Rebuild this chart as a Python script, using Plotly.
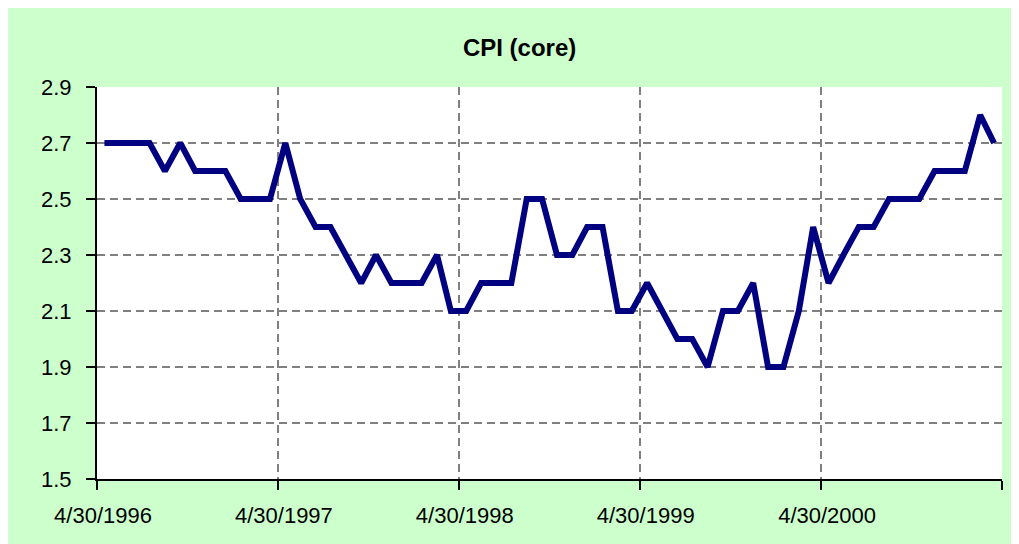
import pandas as pd
import plotly.graph_objects as go

# Monthly core CPI, April 1996 .. March 2001
start_month = "1996-04-01"
cpi_core = [
    2.7, 2.7, 2.7, 2.7, 2.6, 2.7, 2.6, 2.6, 2.6, 2.5, 2.5, 2.5,
    2.7, 2.5, 2.4, 2.4, 2.3, 2.2, 2.3, 2.2, 2.2, 2.2, 2.3, 2.1,
    2.1, 2.2, 2.2, 2.2, 2.5, 2.5, 2.3, 2.3, 2.4, 2.4, 2.1, 2.1,
    2.2, 2.1, 2.0, 2.0, 1.9, 2.1, 2.1, 2.2, 1.9, 1.9, 2.1, 2.4,
    2.2, 2.3, 2.4, 2.4, 2.5, 2.5, 2.5, 2.6, 2.6, 2.6, 2.8, 2.7,
]
tick_dates = ["1996-04-01", "1997-04-01", "1998-04-01", "1999-04-01", "2000-04-01", "2001-04-01"]
tick_labels = ["4/30/1996", "4/30/1997", "4/30/1998", "4/30/1999", "4/30/2000", ""]
y_ticks = [1.5, 1.7, 1.9, 2.1, 2.3, 2.5, 2.7, 2.9]

# points sit in the middle of their month slot (Excel date axis style)
months = pd.date_range(start_month, periods=len(cpi_core), freq="MS") + pd.Timedelta(days=15)

# page has an 8px body margin, figure fills the rest of the 1019x544 window
W, H = 1011, 536
L, R, T, B = 89, 17, 79, 65

fig = go.Figure()
fig.add_trace(go.Scatter(
    x=months, y=cpi_core, mode="lines",
    line=dict(color="#000080", width=6),
    showlegend=False, hoverinfo="x+y",
))

font = "Liberation Sans, Arial, sans-serif"
fig.update_layout(
    width=W, height=H,
    margin=dict(l=L, r=R, t=T, b=B),
    paper_bgcolor="#CCFFCC",
    plot_bgcolor="white",
    title=dict(text="<b>CPI (core)</b>", x=0.506, xref="container", xanchor="center",
               y=1 - 40 / H, yref="container", yanchor="middle",
               font=dict(family=font, size=24, color="black")),
    xaxis=dict(
        type="date", range=[tick_dates[0], tick_dates[-1]],
        tickmode="array", tickvals=tick_dates, ticktext=tick_labels,
        showgrid=True, gridcolor="#808080", griddash="8px,5px", gridwidth=1.5,
        showline=True, linecolor="black", linewidth=2,
        ticks="outside", ticklen=9, tickcolor="black", tickwidth=2,
        tickfont=dict(family=font, size=22, color="black"),
        ticklabelshift=6, ticklabelstandoff=7,
        zeroline=False,
    ),
    yaxis=dict(
        range=[1.5, 2.9], tickmode="array", tickvals=y_ticks,
        ticktext=[f"{v:.1f}" for v in y_ticks],
        showgrid=True, gridcolor="#808080", griddash="8px,5px", gridwidth=1.5,
        showline=True, linecolor="black", linewidth=2,
        ticks="outside", ticklen=9, tickcolor="black", tickwidth=2,
        tickfont=dict(family=font, size=22, color="black"),
        ticklabelstandoff=10,
        zeroline=False,
    ),
)

fig.write_html("out.html")
